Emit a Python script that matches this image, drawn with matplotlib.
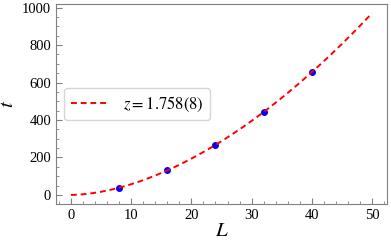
import numpy as np
import matplotlib
matplotlib.use("Agg")
import matplotlib.pyplot as plt
from matplotlib.ticker import MultipleLocator

# measured data
L_data = [8, 16, 24, 32, 40]
t_data = [38.7, 131, 267, 443, 655]

# fit t = a * L^z
fit_a = 1.0
fit_z = 1.758
fit_label = r"$z=1.758(8)$"

plt.rcParams["font.family"] = "Liberation Serif"
plt.rcParams["mathtext.fontset"] = "stix"

fig = plt.figure(figsize=(3.91, 2.42), dpi=100)
ax = fig.add_axes([0.143, 0.157, 0.847, 0.826])

L_fit = np.linspace(0, 50, 200)
t_fit = fit_a * L_fit ** fit_z

ax.scatter(L_data, t_data, s=16, color="blue", zorder=2)
ax.plot(L_fit, t_fit, "--", color="red", lw=1.4, dashes=(3, 2), label=fit_label, zorder=3)

ax.set_xticks([0, 10, 20, 30, 40, 50])
ax.set_yticks([0, 200, 400, 600, 800, 1000])
ax.xaxis.set_minor_locator(MultipleLocator(2))
ax.yaxis.set_minor_locator(MultipleLocator(50))
ax.tick_params(which="both", direction="in", color="#808080", labelsize=10.5)
ax.tick_params(which="major", length=4)
ax.tick_params(which="minor", length=2)

for s in ax.spines.values():
    s.set_color("#808080")

ax.set_xlabel(r"$L$", fontsize=15, labelpad=0)
ax.set_ylabel(r"$t$", fontsize=15, labelpad=3)

ax.legend(loc="center left", fontsize=12, handlelength=2.3)

fig.savefig("out.png", dpi=100)
